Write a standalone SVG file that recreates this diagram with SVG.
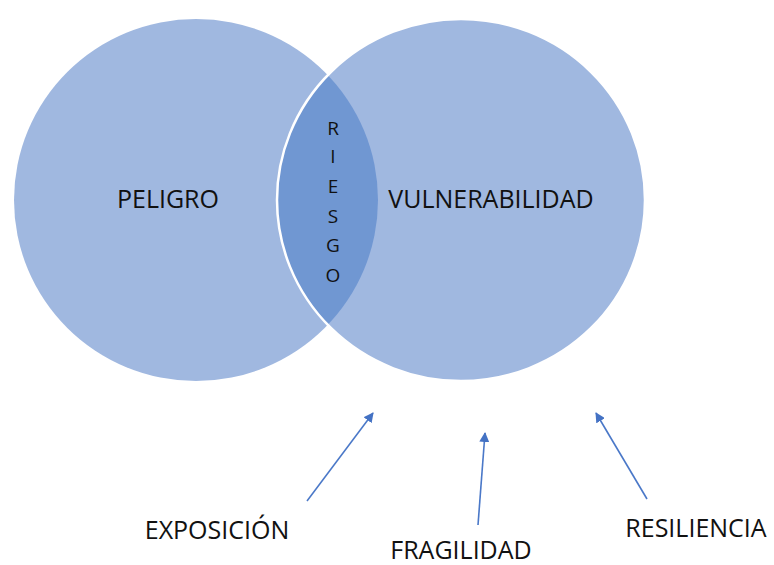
<svg xmlns="http://www.w3.org/2000/svg" width="774" height="565" viewBox="0 0 774 565">
<style>
.lbl{font-family:"Open Sans","Liberation Sans",sans-serif;fill:#111111;}
.big{font-size:25px;}
.sm{font-size:19px;}
.bot{font-size:25px;}
.conn{stroke:#4A78C8;stroke-width:1.6;fill:none;marker-end:url(#ah);}
</style>
<defs>
<marker id="ah" viewBox="0 0 10 10" refX="9" refY="5" markerWidth="10" markerHeight="10" markerUnits="userSpaceOnUse" orient="auto">
<path d="M0,0 L10,5 L0,10 Z" fill="#4472C4"/>
</marker>
<clipPath id="clipR"><ellipse cx="461" cy="200" rx="184" ry="181"/></clipPath>
</defs>
<g id="peligro">
<ellipse cx="196" cy="200" rx="182" ry="181" fill="#A0B8E0"/>
<text class="lbl big" x="168" y="208" text-anchor="middle">PELIGRO</text>
</g>
<g id="vulnerabilidad">
<ellipse cx="461" cy="200" rx="184" ry="181" fill="#A0B8E0"/>
<text class="lbl big" x="491" y="208" text-anchor="middle">VULNERABILIDAD</text>
</g>
<g id="riesgo">
<ellipse cx="196" cy="200" rx="182" ry="181" fill="#7097D2" clip-path="url(#clipR)"/>
<ellipse cx="461" cy="200" rx="184" ry="181" fill="none" stroke="#FFFFFF" stroke-width="2.5"/>
<g class="lbl sm" text-anchor="middle">
<text x="333" y="135">R</text>
<text x="333" y="163">I</text>
<text x="333" y="193">E</text>
<text x="333" y="223">S</text>
<text x="333" y="252">G</text>
<text x="333" y="282">O</text>
</g>
</g>
<g id="exposicion"><text class="lbl bot" x="217" y="539" text-anchor="middle">EXPOSICIÓN</text></g>
<g id="fragilidad"><text class="lbl bot" x="461" y="559" text-anchor="middle">FRAGILIDAD</text></g>
<g id="resiliencia"><text class="lbl bot" x="696" y="537" text-anchor="middle">RESILIENCIA</text></g>
<g id="connectors">
<line class="conn" x1="307" y1="501" x2="373" y2="413"/>
<line class="conn" x1="478" y1="525" x2="485" y2="433"/>
<line class="conn" x1="647" y1="499" x2="596" y2="413"/>
</g>
</svg>
